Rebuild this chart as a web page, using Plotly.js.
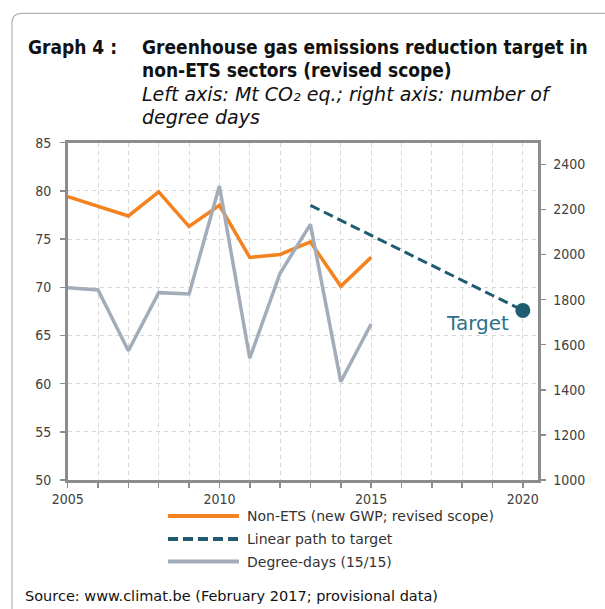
<!DOCTYPE html>
<html>
<head>
<meta charset="utf-8">
<script src="https://cdn.plot.ly/plotly-3.0.1.min.js"></script>
<style>html,body{margin:0;padding:0;background:#fff;}#chart{width:605px;height:609px;}</style>
</head>
<body>
<div id="chart"></div>
<script>
// ---- data ----
const years = [2005, 2006, 2007, 2008, 2009, 2010, 2011, 2012, 2013, 2014, 2015];
const nonEts = [79.4, 78.4, 77.4, 79.9, 76.3, 78.5, 73.1, 73.4, 74.7, 70.1, 73.1];
const degreeDays = [1853, 1843, 1573, 1831, 1825, 2304, 1540, 1917, 2134, 1436, 1692];
const pathYears = [2013, 2020];
const pathValues = [78.5, 67.6];
const targetYear = [2020];
const targetValue = [67.6];
const seriesNames = ["Non-ETS (new GWP; revised scope)", "Linear path to target", "Degree-days (15/15)"];
const xTickVals = [2005, 2010, 2015, 2020];
const leftTicks = [50, 55, 60, 65, 70, 75, 80, 85];
const rightTicks = [1000, 1200, 1400, 1600, 1800, 2000, 2200, 2400];

const W = 605, H = 609;
const px = v => v / W;
const py = v => 1 - v / H;
const FONT = "DejaVu Sans Condensed, DejaVu Sans, sans-serif";
const FONT_W = "DejaVu Sans, sans-serif";
const ORANGE = "#f4821f", GREY = "#a3adba", TEAL = "#1f5c70";

const traces = [
  {x: years, y: nonEts, type: "scatter", mode: "lines", name: seriesNames[0],
   line: {color: ORANGE, width: 3.5}, yaxis: "y", showlegend: false},
  {x: pathYears, y: pathValues, type: "scatter", mode: "lines", name: seriesNames[1],
   line: {color: TEAL, width: 3, dash: "10px,5px"}, yaxis: "y", showlegend: false},
  {x: targetYear, y: targetValue, type: "scatter", mode: "markers", name: "Target",
   marker: {color: TEAL, size: 15}, yaxis: "y", showlegend: false, cliponaxis: false},
  {x: years, y: degreeDays, type: "scatter", mode: "lines", name: seriesNames[2],
   line: {color: GREY, width: 3.5}, yaxis: "y2", showlegend: false}
];

const axisLine = "#8c8c8c";
const layout = {
  width: W, height: H, autosize: false,
  margin: {l: 0, r: 0, t: 0, b: 0, pad: 0},
  paper_bgcolor: "#fff", plot_bgcolor: "#fff",
  showlegend: false,
  font: {family: FONT, size: 14, color: "#404040"},
  xaxis: {
    domain: [px(67.7), px(538)], range: [2005, 2020.5],
    tickvals: xTickVals, ticks: "outside", ticklen: 5, tickwidth: 1.5, tickcolor: axisLine,
    showline: true, linecolor: axisLine, linewidth: 2.5, mirror: true,
    showgrid: true, gridcolor: "#d6d6d6", griddash: "4px,4px", gridwidth: 1,
    minor: {dtick: 1, tick0: 2005, ticks: "outside", ticklen: 5, tickwidth: 1.5, tickcolor: axisLine,
            showgrid: true, gridcolor: "#d6d6d6", griddash: "4px,4px", gridwidth: 1},
    zeroline: false, tickfont: {size: 14, color: "#404040", family: FONT}, fixedrange: true
  },
  yaxis: {
    domain: [1 - 480 / H, 1 - 142.7 / H], range: [50, 85],
    tickvals: leftTicks, ticks: "outside", ticklen: 5, tickwidth: 1.5, tickcolor: axisLine,
    showline: true, linecolor: axisLine, linewidth: 2.5,
    showgrid: true, gridcolor: "#d6d6d6", griddash: "4px,4px", gridwidth: 1,
    zeroline: false, tickfont: {size: 14, color: "#404040", family: FONT}, ticklabelstandoff: 6
  },
  yaxis2: {
    overlaying: "y", side: "right", anchor: "x", range: [1000, 2496],
    tickvals: rightTicks, ticks: "outside", ticklen: 5, tickwidth: 1.5, tickcolor: axisLine,
    showline: true, linecolor: axisLine, linewidth: 2.5, showgrid: false, zeroline: false,
    tickfont: {size: 14, color: "#404040", family: FONT}, ticklabelstandoff: 5
  },
  shapes: [
    {type: "path", xref: "paper", yref: "paper",
     path: `M ${px(12)} ${py(640)} L ${px(12)} ${py(23)} Q ${px(12)} ${py(13.3)} ${px(22)} ${py(13.3)} L ${px(640)} ${py(13.3)}`,
     line: {color: "#b3b3b3", width: 1.2}},
    {type: "line", xref: "paper", yref: "paper", x0: px(168), x1: px(239), y0: py(516), y1: py(516),
     line: {color: ORANGE, width: 4}},
    {type: "line", xref: "paper", yref: "paper", x0: px(168), x1: px(239), y0: py(539), y1: py(539),
     line: {color: TEAL, width: 4, dash: "10px,5px"}},
    {type: "line", xref: "paper", yref: "paper", x0: px(168), x1: px(239), y0: py(561.5), y1: py(561.5),
     line: {color: GREY, width: 4}}
  ],
  annotations: [
    {xref: "paper", yref: "paper", x: px(26), y: py(47), xanchor: "left", yanchor: "middle", showarrow: false,
     text: "<b>Graph 4 :</b>", font: {family: FONT, size: 19, color: "#111"}},
    {xref: "paper", yref: "paper", x: px(140), y: py(47), xanchor: "left", yanchor: "middle", showarrow: false,
     text: "<b>Greenhouse gas emissions reduction target in</b>", font: {family: FONT, size: 19, color: "#111"}},
    {xref: "paper", yref: "paper", x: px(140), y: py(70), xanchor: "left", yanchor: "middle", showarrow: false,
     text: "<b>non-ETS sectors (revised scope)</b>", font: {family: FONT, size: 19, color: "#111"}},
    {xref: "paper", yref: "paper", x: px(140), y: py(94), xanchor: "left", yanchor: "middle", showarrow: false,
     text: "<i>Left axis: Mt CO₂ eq.; right axis: number of</i>", font: {family: FONT_W, size: 19, color: "#111"}},
    {xref: "paper", yref: "paper", x: px(140), y: py(117), xanchor: "left", yanchor: "middle", showarrow: false,
     text: "<i>degree days</i>", font: {family: FONT_W, size: 19, color: "#111"}},
    {xref: "x", yref: "y", x: 2018.5, y: 66.3, xanchor: "center", yanchor: "middle", showarrow: false,
     text: "Target", font: {family: FONT_W, size: 20, color: "#2d7188"}},
    {xref: "paper", yref: "paper", x: px(245), y: py(516), xanchor: "left", yanchor: "middle", showarrow: false,
     text: seriesNames[0], font: {family: FONT_W, size: 14, color: "#333"}},
    {xref: "paper", yref: "paper", x: px(245), y: py(539), xanchor: "left", yanchor: "middle", showarrow: false,
     text: seriesNames[1], font: {family: FONT_W, size: 14, color: "#333"}},
    {xref: "paper", yref: "paper", x: px(245), y: py(561.5), xanchor: "left", yanchor: "middle", showarrow: false,
     text: seriesNames[2], font: {family: FONT_W, size: 14, color: "#333"}},
    {xref: "paper", yref: "paper", x: px(23), y: py(596), xanchor: "left", yanchor: "middle", showarrow: false,
     text: "Source: www.climat.be (February 2017; provisional data)", font: {family: FONT_W, size: 14.5, color: "#111"}}
  ]
};

Plotly.newPlot("chart", traces, layout, {displayModeBar: false, staticPlot: true});
</script>
</body>
</html>
